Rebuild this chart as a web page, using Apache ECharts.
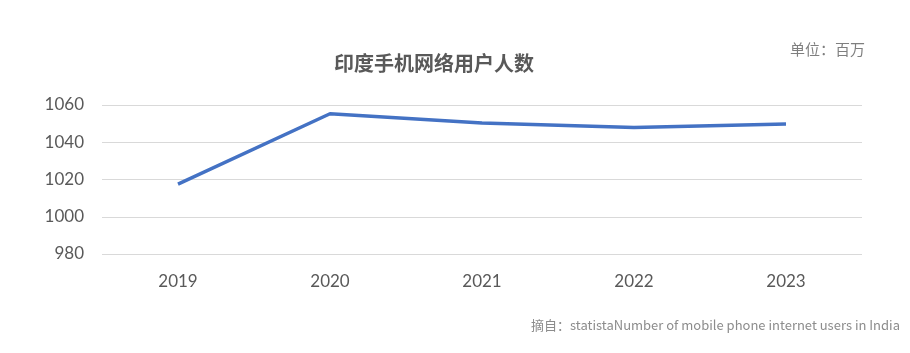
<!DOCTYPE html>
<html>
<head>
<meta charset="utf-8">
<script src="https://cdn.jsdelivr.net/npm/echarts@6/dist/echarts.min.js"></script>
<style>
  html, body { margin: 0; padding: 0; background: #fff; }
  #chart { width: 910px; height: 353px; }
</style>
</head>
<body>
<div id="chart"></div>
<script>
// data
var years = ['2019', '2020', '2021', '2022', '2023']
var users = [1017.5, 1055.3, 1050.4, 1047.9, 1049.8]
var yTicks = [980, 1000, 1020, 1040, 1060]

var chart = echarts.init(document.getElementById('chart'))
chart.setOption({
    backgroundColor: '#fff',
    animation: false,
    title: {
        text: '印度手机网络用户人数',
        left: 429,
        textAlign: 'center',
        top: 48,
        textStyle: {
            color: '#595959',
            fontSize: 20,
            fontWeight: 'bold',
            fontFamily: 'Noto Sans CJK SC'
        }
    },
    graphic: [
        {
            type: 'text',
            right: 45,
            top: 42,
            style: {
                text: '单位：百万',
                fill: '#7f7f7f',
                font: '15px "Noto Sans CJK SC"'
            }
        },
        {
            type: 'text',
            right: 10,
            top: 319,
            style: {
                text: '摘自：statistaNumber of mobile phone internet users in India',
                fill: '#8c8c8c',
                font: '13px "Noto Sans CJK SC"'
            }
        }
    ],
    grid: {
        left: 102,
        right: 48,
        top: 105,
        bottom: 99
    },
    xAxis: {
        type: 'category',
        data: years,
        boundaryGap: true,
        axisLine: { show: false },
        axisTick: { show: false },
        axisLabel: {
            color: '#595959',
            fontSize: 17,
            fontFamily: 'Lato',
            margin: 19
        }
    },
    yAxis: {
        type: 'value',
        min: yTicks[0],
        max: yTicks[yTicks.length - 1],
        interval: 20,
        axisLine: { show: false },
        axisTick: { show: false },
        axisLabel: {
            color: '#595959',
            fontSize: 17,
            fontFamily: 'Lato',
            margin: 18,
            formatter: function (v) { return String(v) }
        },
        splitLine: {
            lineStyle: { color: '#d9d9d9', width: 1 }
        }
    },
    series: [
        {
            type: 'line',
            data: users,
            showSymbol: false,
            symbol: 'none',
            lineStyle: { color: '#4472c4', width: 3.5 }
        }
    ]
})
</script>
</body>
</html>
